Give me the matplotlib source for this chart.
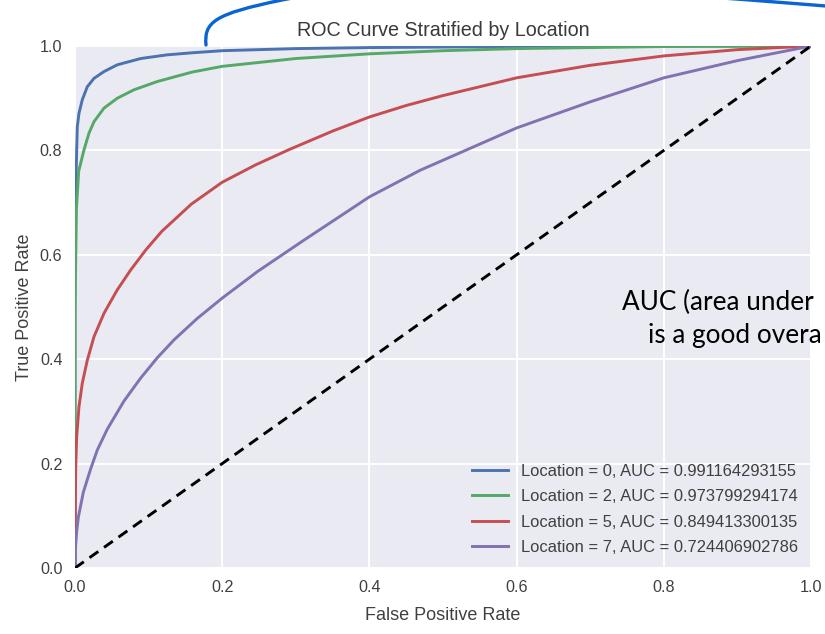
import matplotlib
matplotlib.use("Agg")
import matplotlib.pyplot as plt
from matplotlib.path import Path
from matplotlib.patches import PathPatch

# ---------------- data ----------------
title = "ROC Curve Stratified by Location"
x_label = "False Positive Rate"
y_label = "True Positive Rate"
tick_values = [0.0, 0.2, 0.4, 0.6, 0.8, 1.0]
tick_labels = ["0.0", "0.2", "0.4", "0.6", "0.8", "1.0"]

locations = [0, 2, 5, 7]
auc_values = ["0.991164293155", "0.973799294174", "0.849413300135", "0.724406902786"]

fpr_loc0 = [0, 0, 0.0023, 0.0031, 0.0054, 0.0099, 0.0167, 0.0258, 0.0394, 0.0575, 0.0893,
            0.125, 0.159, 0.2, 0.3, 0.4, 0.6, 0.8, 1.0]
tpr_loc0 = [0, 0.67, 0.801, 0.845, 0.871, 0.897, 0.922, 0.938, 0.951, 0.964, 0.976,
            0.983, 0.987, 0.991, 0.995, 0.997, 0.999, 1.0, 1.0]

fpr_loc2 = [0, 0, 0.002, 0.005, 0.0122, 0.019, 0.0258, 0.0394, 0.0575, 0.080, 0.112,
            0.159, 0.2, 0.3, 0.4, 0.5, 0.6, 0.8, 1.0]
tpr_loc2 = [0, 0.5, 0.69, 0.76, 0.801, 0.833, 0.855, 0.881, 0.900, 0.916, 0.932,
            0.950, 0.961, 0.976, 0.985, 0.991, 0.995, 0.999, 1.0]

fpr_loc5 = [0, 0, 0.001, 0.0023, 0.0054, 0.0099, 0.0167, 0.0258, 0.0394, 0.0575, 0.0757,
            0.096, 0.118, 0.158, 0.2, 0.245, 0.29, 0.35, 0.4, 0.45, 0.5, 0.6, 0.7, 0.8, 0.9, 1.0]
tpr_loc5 = [0, 0.07, 0.194, 0.252, 0.309, 0.354, 0.398, 0.443, 0.488, 0.533, 0.571,
            0.609, 0.645, 0.697, 0.739, 0.772, 0.801, 0.837, 0.864, 0.886, 0.905, 0.939, 0.963, 0.981, 0.993, 1.0]

fpr_loc7 = [0, 0, 0.0023, 0.0045, 0.0113, 0.0213, 0.0303, 0.0439, 0.0666, 0.0893, 0.112,
            0.1345, 0.166, 0.2, 0.248, 0.311, 0.4, 0.469, 0.6, 0.7, 0.8, 0.9, 1.0]
tpr_loc7 = [0, 0.028, 0.07, 0.097, 0.145, 0.19, 0.226, 0.266, 0.320, 0.364, 0.403,
            0.437, 0.478, 0.517, 0.568, 0.628, 0.711, 0.762, 0.843, 0.893, 0.939, 0.972, 1.0]

chance_x = [0, 1]
chance_y = [0, 1]

overlay_line1 = "AUC (area under"
overlay_line2 = "is a good overa"

# hand-drawn pen stroke on the slide (pixel coords of Bezier control points)
stroke_pts = [(206, 45), (204, 22), (214, 14), (282, 0),
              (420, -28), (620, -10), (826, 6)]

colors = ["#4C72B0", "#55A868", "#C44E52", "#8172B2"]

# ---------------- style ----------------
plt.rcParams["font.family"] = ["Liberation Sans", "DejaVu Sans"]
W, H = 825, 634
fig = plt.figure(figsize=(W / 100, H / 100), dpi=100, facecolor="white")
ax = fig.add_axes([75 / W, 1 - 568 / H, (811 - 75) / W, (568 - 46) / H])
ax.set_facecolor("#EAEAF2")
for s in ax.spines.values():
    s.set_visible(False)
ax.grid(True, color="white", linewidth=1.4)
ax.set_axisbelow(True)

series = [(fpr_loc0, tpr_loc0), (fpr_loc2, tpr_loc2), (fpr_loc5, tpr_loc5), (fpr_loc7, tpr_loc7)]
for (fx, ty), loc, auc, c in zip(series, locations, auc_values, colors):
    ax.plot(fx, ty, color=c, linewidth=2.1,
            label=f"Location = {loc}, AUC = {auc}", solid_joinstyle="round")

ax.plot(chance_x, chance_y, color="black", linestyle="--", linewidth=2.1, dashes=(3.7, 2.4))

ax.set_xlim(0, 1)
ax.set_ylim(0, 1)
ax.set_xticks(tick_values)
ax.set_xticklabels(tick_labels)
ax.set_yticks(tick_values)
ax.set_yticklabels(tick_labels)
ax.tick_params(axis="both", length=0, labelsize=11.6, labelcolor="#404040", pad=9)

ax.set_title(title, fontsize=14.2, color="#3a3a3a", pad=7)
ax.set_xlabel(x_label, fontsize=13, color="#404040", labelpad=8)
ax.set_ylabel(y_label, fontsize=13, color="#404040", labelpad=5)

leg = ax.legend(loc="lower right", frameon=False, fontsize=11.9, handlelength=2.2,
                handletextpad=0.75, labelspacing=0.62, borderaxespad=0.4)
for t in leg.get_texts():
    t.set_color("#404040")

# slide overlay text
fig.text(622 / W, 1 - 310 / H, overlay_line1, fontsize=18.8, family=["Lato", "DejaVu Sans"],
         color="black", ha="left", va="baseline")
fig.text(648 / W, 1 - 343 / H, overlay_line2, fontsize=18.8, family=["Lato", "DejaVu Sans"],
         color="black", ha="left", va="baseline")

# pen stroke overlay
ov = fig.add_axes([0, 0, 1, 1], facecolor="none")
ov.set_xlim(0, W)
ov.set_ylim(H, 0)
ov.axis("off")
codes = [Path.MOVETO] + [Path.CURVE4] * 6
ov.add_patch(PathPatch(Path(stroke_pts, codes), facecolor="none", edgecolor="#0A64D2",
                       linewidth=2.4, capstyle="round"))

fig.savefig("out.png", dpi=100, facecolor="white")
